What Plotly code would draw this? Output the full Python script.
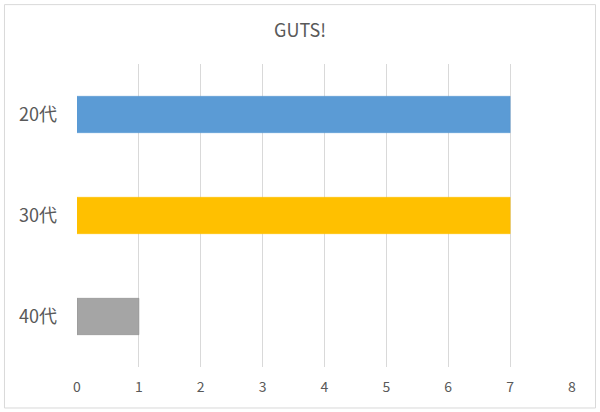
import plotly.graph_objects as go

# Data
categories = ["20代", "30代", "40代"]
values = [7, 7, 1]
colors = ["#5B9BD5", "#FFC000", "#A5A5A5"]
tick_vals = [0, 1, 2, 3, 4, 5, 6, 7, 8]

fig = go.Figure()

fig.add_trace(go.Bar(
    y=categories,
    x=values,
    orientation="h",
    marker=dict(color=colors, line=dict(color=["#5B9BD5", "#FFC000", "#8C8C8C"], width=0.6)),
    width=0.36,
    hovertemplate="%{y}: %{x}<extra></extra>",
))

fig.update_layout(
    width=600,
    height=412,
    title=dict(text="GUTS!", x=0.5, xanchor="center", y=1 - 31 / 412, yanchor="middle",
               font=dict(size=18, color="#595959", family="Noto Sans CJK JP")),
    margin=dict(l=77, r=28, t=64, b=45),
    plot_bgcolor="white",
    paper_bgcolor="white",
    showlegend=False,
    font=dict(family="Noto Sans CJK JP", color="#595959"),
)

fig.update_xaxes(
    range=[0, 8],
    tickvals=tick_vals,
    showgrid=True,
    gridcolor="#D9D9D9",
    gridwidth=1,
    zeroline=False,
    showline=False,
    ticks="",
    tickfont=dict(size=14, color="#595959"),
    ticklabelstandoff=10,
)
fig.update_yaxes(
    categoryorder="array",
    categoryarray=categories[::-1],
    showgrid=False,
    zeroline=False,
    showline=False,
    ticks="",
    tickfont=dict(size=18, color="#595959"),
    ticklabelstandoff=19,
)

# Chart border
fig.add_shape(
    type="rect", xref="paper", yref="paper",
    x0=-0.1465, x1=1.0475, y0=-0.1353, y1=1.196,
    line=dict(color="#D9D9D9", width=1),
    layer="below",
)

fig.write_html("out.html", config={"displayModeBar": False},
               post_script="document.body.style.margin='0';")
